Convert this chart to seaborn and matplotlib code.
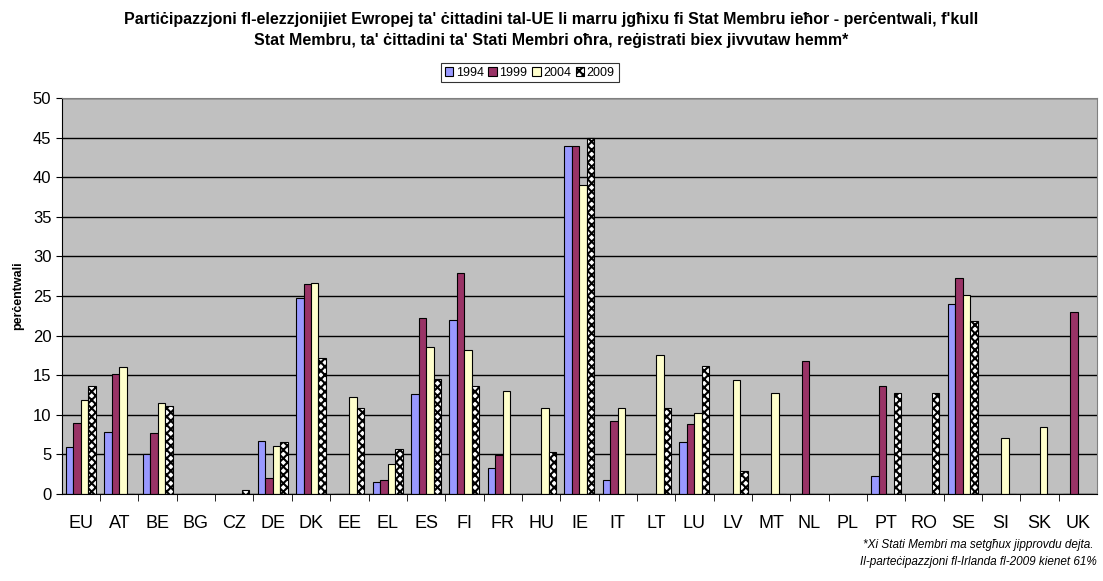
import matplotlib.pyplot as plt
import pandas as pd
import seaborn as sns

countries = ["EU", "AT", "BE", "BG", "CZ", "DE", "DK", "EE", "EL", "ES", "FI", "FR", "HU", "IE",
             "IT", "LT", "LU", "LV", "MT", "NL", "PL", "PT", "RO", "SE", "SI", "SK", "UK"]
years = ["1994", "1999", "2004", "2009"]
v1994 = [5.9, 7.8, 5.0, 0, 0, 6.7, 24.8, 0, 1.5, 12.6, 22.0, 3.3, 0, 44.0,
         1.8, 0, 6.5, 0, 0, 0, 0, 2.2, 0, 24.0, 0, 0, 0]
v1999 = [9.0, 15.1, 7.7, 0, 0, 2.0, 26.5, 0, 1.8, 22.2, 27.9, 4.9, 0, 43.9,
         9.2, 0, 8.8, 0, 0, 16.8, 0, 13.6, 0, 27.3, 0, 0, 23.0]
v2004 = [11.9, 16.0, 11.5, 0, 0, 6.0, 26.7, 12.2, 3.8, 18.5, 18.2, 13.0, 10.9, 39.0,
         10.9, 17.5, 10.2, 14.4, 12.7, 0, 0, 0, 0, 25.1, 7.1, 8.5, 0]
v2009 = [13.6, 0, 11.1, 0, 0.5, 6.5, 17.2, 10.9, 5.7, 14.5, 13.6, 0, 5.3, 45.0,
         0, 10.8, 16.1, 2.9, 0, 0, 0, 12.7, 12.7, 21.8, 0, 0, 0]
colors = ["#9999FF", "#993366", "#FFFFCC", "#FFFFFF"]

rows = []
for yr, vals in zip(years, [v1994, v1999, v2004, v2009]):
    for c, v in zip(countries, vals):
        rows.append({"country": c, "year": yr, "value": v})
df = pd.DataFrame(rows)

plt.rcParams["font.family"] = ["Liberation Sans", "DejaVu Sans"]
plt.rcParams["hatch.linewidth"] = 1.5
fig = plt.figure(figsize=(11.03, 5.81), dpi=100)
ax = fig.add_axes([0.056, 0.150, 0.9386, 0.681])
ax.set_facecolor("#C0C0C0")
ax.set_axisbelow(True)
ax.yaxis.grid(True, color="black", linewidth=1)

sns.barplot(data=df, x="country", y="value", hue="year", palette=colors, order=countries,
            hue_order=years, width=0.78, gap=0, edgecolor="black", linewidth=0.8,
            saturation=1, ax=ax, legend=False)

# checker pattern for 2009
for bar in ax.containers[3]:
    bar.set_hatch("xxxx")

ax.set_ylim(0, 50)
ax.set_xlim(-0.5, len(countries) - 0.5)
ax.set_yticks(range(0, 51, 5))
ax.tick_params(axis="y", labelsize=12, length=4, direction="out")
ax.tick_params(axis="x", labelsize=13, length=0, pad=15)
ax.set_xticks([i + 0.5 for i in range(len(countries) - 1)], minor=True)
ax.tick_params(axis="x", which="minor", length=5, direction="out")
ax.set_xlabel("")
ax.set_ylabel("perċentwali", fontsize=9, fontweight="bold", labelpad=6)
for s in ["top", "right"]:
    ax.spines[s].set_color("#808080")
ax.spines["left"].set_color("black")
ax.spines["bottom"].set_color("black")

handles = [ax.containers[i][0] for i in range(4)]
leg = ax.legend(handles, years, loc="lower center", bbox_to_anchor=(0.452, 1.04), ncol=4, fontsize=9,
                frameon=True, fancybox=False, edgecolor="black", handlelength=0.7,
                handleheight=0.7, handletextpad=0.2, columnspacing=0.35, borderpad=0.3,
                borderaxespad=0)
leg.get_frame().set_linewidth(0.8)

fig.text(0.5, 0.948, "Partiċipazzjoni fl-elezzjonijiet Ewropej ta' ċittadini tal-UE li marru jgħixu fi Stat Membru ieħor - perċentwali, f'kull\n"
         "Stat Membru, ta' ċittadini ta' Stati Membri oħra, reġistrati biex jivvutaw hemm*",
         ha="center", va="center", fontsize=11.5, fontweight="bold", linespacing=1.5)
fig.text(0.887, 0.047, "*Xi Stati Membri ma setgħux jipprovdu dejta.\nIl-parteċipazzjoni fl-Irlanda fl-2009 kienet 61%",
         ha="center", va="center", fontsize=8.5, style="italic", linespacing=1.5, multialignment="center")

plt.savefig("out.png", dpi=100)
